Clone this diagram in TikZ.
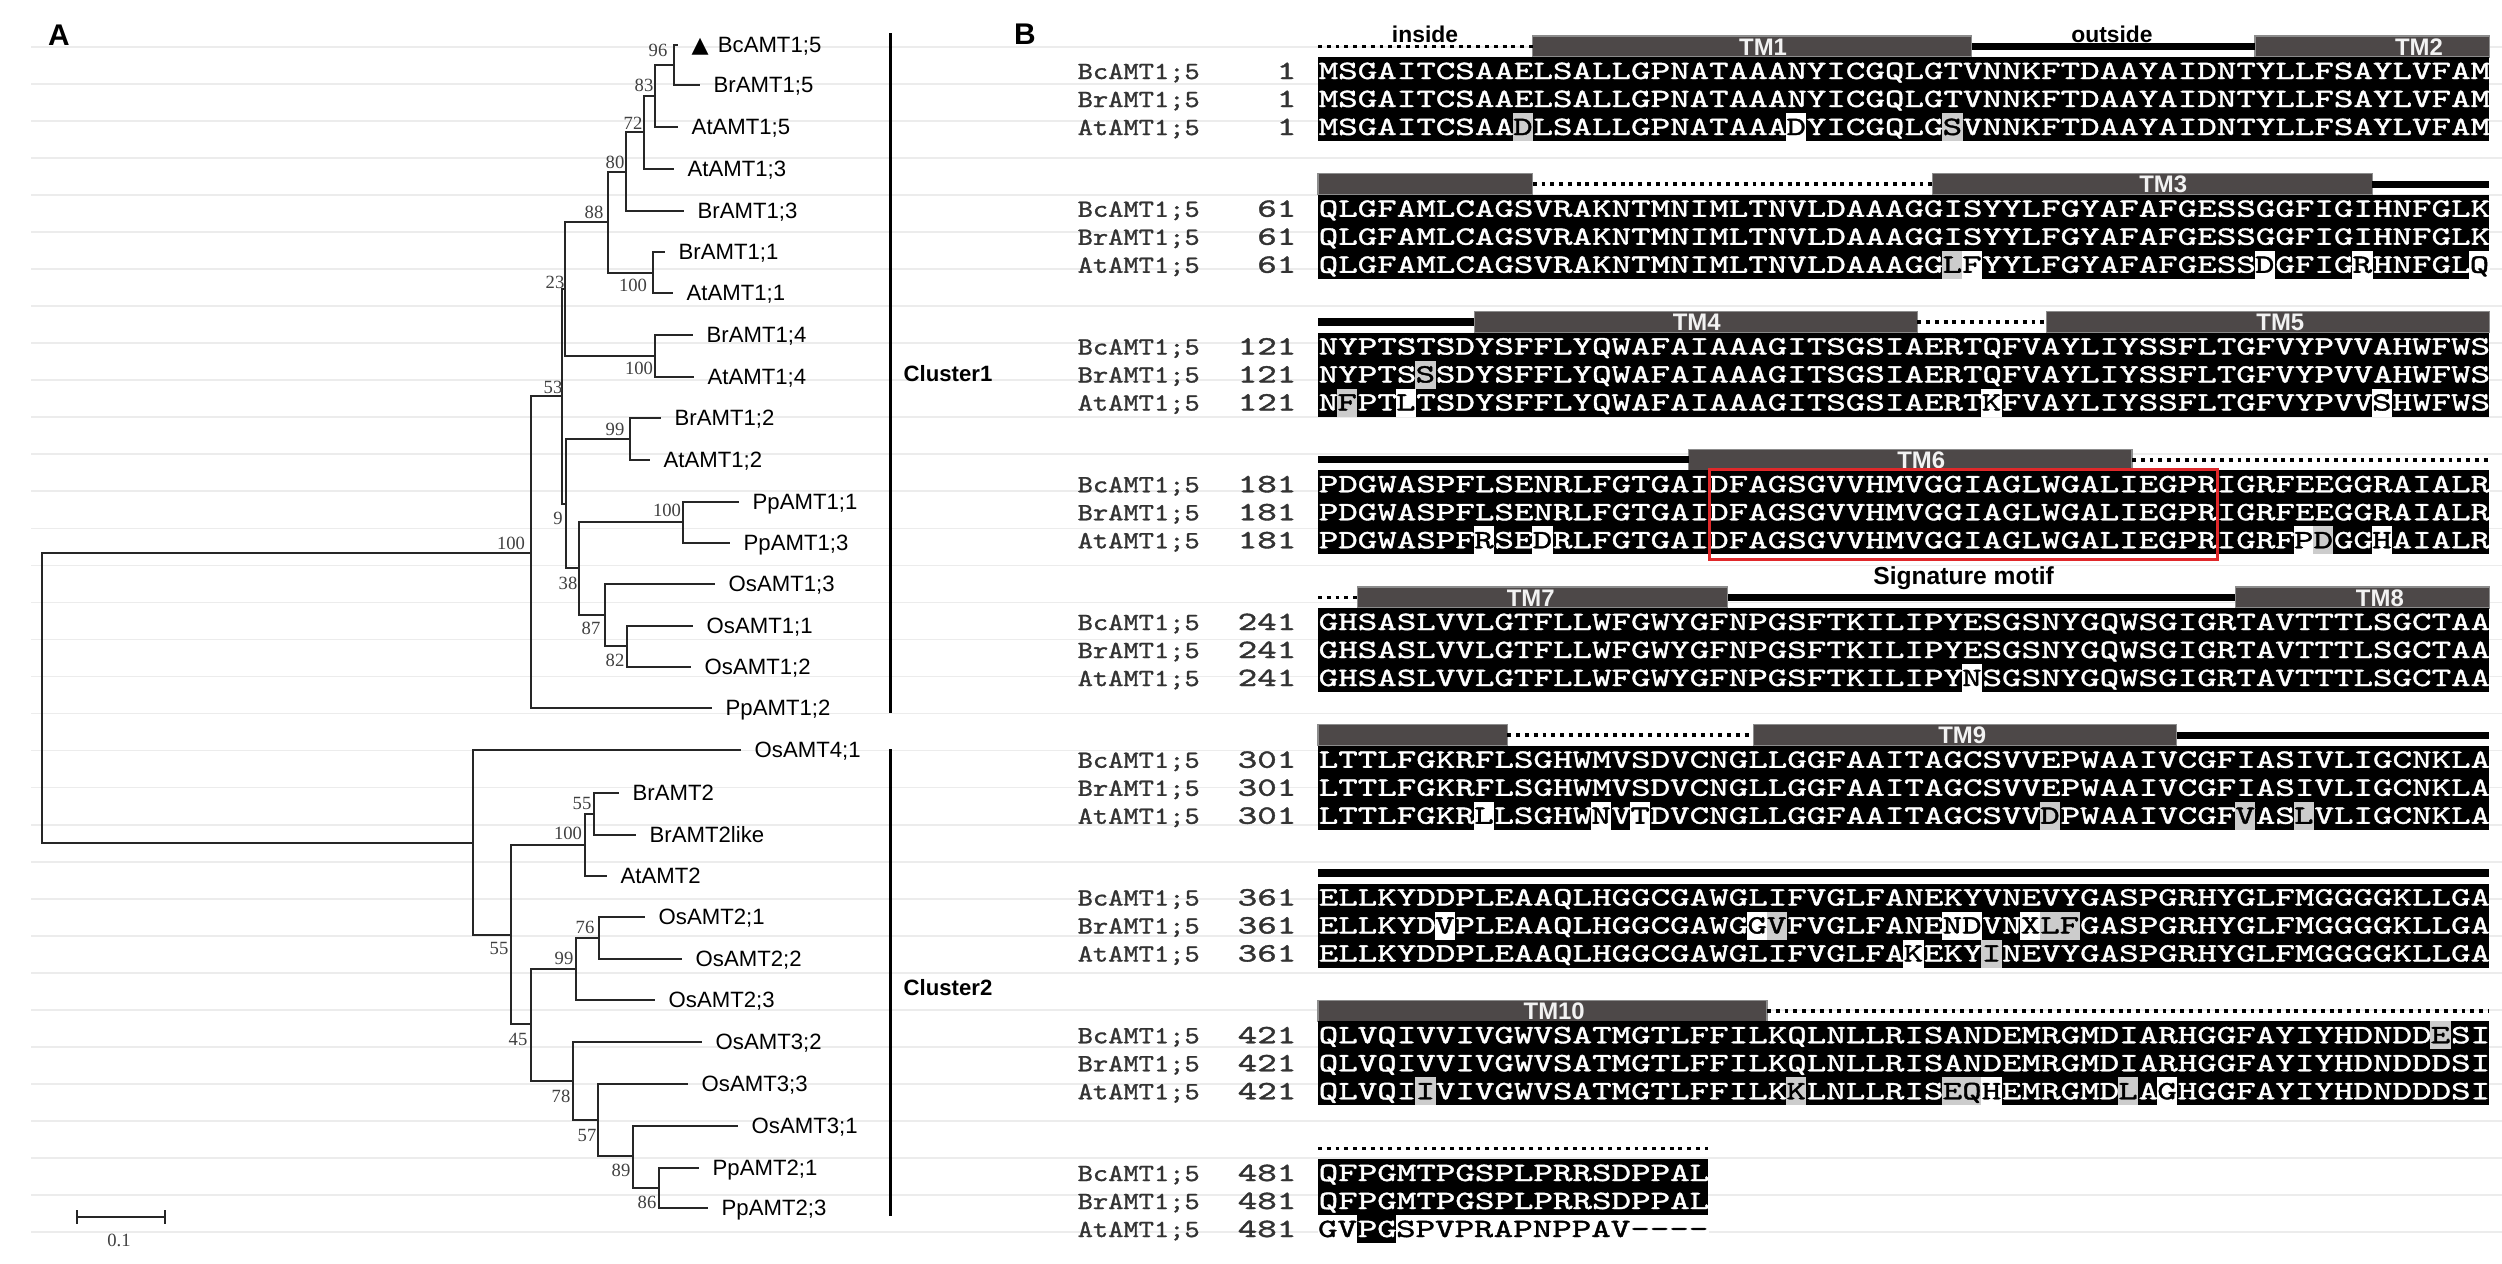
\documentclass[tikz,border=0pt]{standalone}
\usepackage{fontspec}
\setmainfont{Liberation Serif}
\setsansfont{Liberation Sans}
\newfontfamily\seqfont[Extension=.otf,FakeStretch=1.41,FakeBold=1.5]{lmmono10-regular}
\newfontfamily\namefont[Extension=.otf,FakeStretch=1.18,FakeBold=1.2]{lmmono10-regular}
\newfontfamily\symfont{DejaVu Sans}
\usetikzlibrary{positioning}

\definecolor{tmgray}{HTML}{4D4848}
\definecolor{gridgray}{HTML}{ECECEC}
\definecolor{motifred}{HTML}{E0282A}
\colorlet{cellgray}{black!20}

\tikzset{
  branch/.style={draw=black!85, line width=0.6pt},
  leaf/.style={font=\sffamily\fontsize{6.3pt}{6.3pt}\selectfont, anchor=west, inner xsep=3.7pt, inner ysep=0pt, text height=4.5pt, text depth=0pt},
  boot/.style={font=\rmfamily\fontsize{5.3pt}{5.3pt}\selectfont, text=black!75, inner sep=0pt},
  cluster/.style={font=\sffamily\bfseries\fontsize{6.3pt}{6.3pt}\selectfont, anchor=west, inner sep=0pt},
  panel/.style={font=\sffamily\bfseries\fontsize{8.5pt}{8.5pt}\selectfont, inner sep=0pt},
  seqtxt/.style={font=\fontsize{7.5pt}{7.5pt}\seqfont, inner sep=0pt, text=white},
  seqname/.style={font=\fontsize{7pt}{7pt}\namefont, inner sep=0pt, text=black!80, anchor=base west},
  seqnum/.style={font=\fontsize{7.5pt}{7.5pt}\seqfont, inner sep=0pt, text=black!80, anchor=base east},
  tmbar/.style={fill=tmgray, draw=black!45, line width=0.3pt},
  tmlabel/.style={font=\sffamily\bfseries\fontsize{6.8pt}{6.8pt}\selectfont, text=white!95!black, inner sep=0pt, anchor=base},
  outsideline/.style={line width=2pt},
  insideline/.style={line width=1.1pt, dash pattern=on 1.1pt off 1.4pt},
  regionlabel/.style={font=\sffamily\bfseries\fontsize{6.5pt}{6.5pt}\selectfont, inner sep=0pt},
}

\begin{document}
\begin{tikzpicture}[x=0.01cm, y=-0.01cm]
\useasboundingbox[fill=white] (0,0) rectangle (2502,1263);

% faint rules behind everything
\foreach \i in {0,...,32}
  \draw[gridgray, line width=0.5pt] (31,{47+37.03*\i}) -- (2502,{47+37.03*\i});

%%% A: tree
\node[panel] (labA) at (59,35) {A};

\node[leaf] (Bc15) at (678,45) {{\symfont ▲}\hspace{2.6pt}BcAMT1;5};
\foreach \n/\x/\y/\t in {Br15/700/85/BrAMT1;5, At15/678/127/AtAMT1;5, At13/674/169/AtAMT1;3,
    Br13/684/211/BrAMT1;3, Br11/665/252/BrAMT1;1, At11/673/293/AtAMT1;1, Br14/693/335/BrAMT1;4,
    At14/694/377/AtAMT1;4, Br12/661/418/BrAMT1;2, At12/650/460/AtAMT1;2, Pp11/739/502/PpAMT1;1,
    Pp13/730/543/PpAMT1;3, Os13/715/584/OsAMT1;3, Os11/693/626/OsAMT1;1, Os12/691/667/OsAMT1;2,
    Pp12/712/708/PpAMT1;2, Os41/741/750/OsAMT4;1, Br2/619/793/BrAMT2, Br2l/636/835/BrAMT2like,
    At2/607/876/AtAMT2, Os21/645/917/OsAMT2;1, Os22/682/959/OsAMT2;2, Os23/655/1000/OsAMT2;3,
    Os32/702/1042/OsAMT3;2, Os33/688/1084/OsAMT3;3, Os31/738/1126/OsAMT3;1, Pp21/699/1168/PpAMT2;1,
    Pp23/708/1208/PpAMT2;3}
  \node[leaf] (\n) at (\x,\y) {\t};

\foreach \n/\x/\y in {root/42/698, cl1/531/553, cl2/473/843, n53/562/396, n23/565/289, n88/608/222,
    n80/626/172, n72/644/132, n83/655/96, n96/674/65, n100a/653/273, n100b/655/356, n9/566/504,
    n99a/630/439, n38/579/568, n100c/683/522, n87/605/615, n82/627/646, n55a/511/935, n100d/585/845,
    n55b/594/814, n45/531/1024, n99b/576/969, n76/599/938, n78/573/1081, n57/598/1120, n89/633/1156,
    n86/659/1188}
  \coordinate (\n) at (\x,\y);

\foreach \p/\c in {root/cl1, root/cl2, cl1/n53, cl1/Pp12, n53/n23, n53/n9, n23/n88, n23/n100b,
    n88/n80, n88/n100a, n80/n72, n80/Br13, n72/n83, n72/At13, n83/n96, n83/At15, n96/Bc15, n96/Br15,
    n100a/Br11, n100a/At11, n100b/Br14, n100b/At14, n9/n99a, n9/n38, n99a/Br12, n99a/At12,
    n38/n100c, n38/n87, n100c/Pp11, n100c/Pp13, n87/Os13, n87/n82, n82/Os11, n82/Os12,
    cl2/Os41, cl2/n55a, n55a/n100d, n55a/n45, n100d/n55b, n100d/At2, n55b/Br2, n55b/Br2l,
    n45/n99b, n45/n78, n99b/n76, n99b/Os23, n76/Os21, n76/Os22, n78/Os32, n78/n57,
    n57/Os33, n57/n89, n89/Os31, n89/n86, n86/Pp21, n86/Pp23}
  \draw[branch] (\p) |- (\c);

% bootstrap values
\foreach \n/\x/\y/\v in {b96/658/50/96, b83/644/85/83, b72/633/123/72, b80/615/162/80, b88/594/212/88,
    b100a/633/285/100, b23/555/282/23, b100b/639/368/100, b53/553/387/53, b99a/615/429/99,
    b9/558/518/9, b100c/667/510/100, b38/568/583/38, b87/591/628/87, b82/615/660/82,
    b100r/511/543/100, b55b/582/803/55, b100d/568/833/100, b55a/499/948/55, b45/518/1039/45,
    b99b/564/958/99, b76/585/927/76, b78/561/1096/78, b57/587/1135/57, b89/621/1170/89, b86/647/1202/86}
  \node[boot] (\n) at (\x,\y) {\v};

% clusters
\coordinate (c1top) at (890,33);
\coordinate (c1bot) at (890,713);
\coordinate (c2top) at (890,749);
\coordinate (c2bot) at (890,1216);
\draw[line width=0.85pt] (c1top) -- (c1bot);
\draw[line width=0.85pt] (c2top) -- (c2bot);
\node[cluster] (cl1lab) at (903,374) {Cluster1};
\node[cluster] (cl2lab) at (903,988) {Cluster2};

% scale bar
\coordinate (sbl) at (77,1217);
\coordinate (sbr) at (165,1217);
\draw[branch] (sbl) -- (sbr);
\draw[branch] (77,1210) -- (77,1224);
\draw[branch] (165,1210) -- (165,1224);
\node[boot] (sblab) at (119,1240) {0.1};

%%% B: alignment
\node[panel] (labB) at (1025,34) {B};

% topology bars
\foreach \k/\a/\b in {0/11/33.5, 0/48/60, 1/0/11, 1/31.5/54, 2/8/30.7, 2/37.3/60, 3/19/41.7,
    4/2/21, 4/47/60, 5/0/9.7, 5/22.3/44, 7/0/23}
{
  \pgfmathsetmacro\yt{71+137.75*\k-35}
  \pgfmathsetmacro\ybt{71+137.75*\k-14}
  \draw[tmbar] ({1318+19.52*\a},\yt) rectangle ({1318+19.52*\b},\ybt);
}
\foreach \k/\c/\t in {0/22.8/TM1, 0/56.4/TM2, 1/43.3/TM3, 2/19.4/TM4, 2/49.3/TM5, 3/30.9/TM6,
    4/10.9/TM7, 4/54.4/TM8, 5/33/TM9, 7/12.1/TM10}
{
  \pgfmathsetmacro\ym{71+137.75*\k-16}
  \node[tmlabel] (\t) at ({1318+19.52*\c},\ym) {\t};
}
\foreach \k/\a/\b in {0/33.5/48, 1/54/60, 2/0/8, 3/0/19, 4/21/47, 5/44/60, 6/0/60}
{
  \pgfmathsetmacro\ym{71+137.75*\k-24.5}
  \draw[outsideline] ({1318+19.52*\a},\ym) -- ({1318+19.52*\b},\ym);
}
\foreach \k/\a/\b in {0/0/11, 1/11/31.5, 2/30.7/37.3, 3/41.7/60, 4/0/2, 5/9.7/22.3, 7/23/60, 8/0/20}
{
  \pgfmathsetmacro\ym{71+137.75*\k-24.5}
  \draw[insideline] ({1318+19.52*\a},\ym) -- ({1318+19.52*\b},\ym);
}
\node[regionlabel, anchor=base] (inside) at (1425,42) {inside};
\node[regionlabel, anchor=base] (outside) at (2112,42) {outside};

% sequence blocks
\foreach \k/\num/\len/\sa/\sb/\sc in {
  0/1/60/MSGAITCSAAELSALLGPNATAAANYICGQLGTVNNKFTDAAYAIDNTYLLFSAYLVFAM/MSGAITCSAAELSALLGPNATAAANYICGQLGTVNNKFTDAAYAIDNTYLLFSAYLVFAM/MSGAITCSAADLSALLGPNATAAADYICGQLGSVNNKFTDAAYAIDNTYLLFSAYLVFAM,
  1/61/60/QLGFAMLCAGSVRAKNTMNIMLTNVLDAAAGGISYYLFGYAFAFGESSGGFIGIHNFGLK/QLGFAMLCAGSVRAKNTMNIMLTNVLDAAAGGISYYLFGYAFAFGESSGGFIGIHNFGLK/QLGFAMLCAGSVRAKNTMNIMLTNVLDAAAGGLFYYLFGYAFAFGESSDGFIGRHNFGLQ,
  2/121/60/NYPTSTSDYSFFLYQWAFAIAAAGITSGSIAERTQFVAYLIYSSFLTGFVYPVVAHWFWS/NYPTSSSDYSFFLYQWAFAIAAAGITSGSIAERTQFVAYLIYSSFLTGFVYPVVAHWFWS/NFPTLTSDYSFFLYQWAFAIAAAGITSGSIAERTKFVAYLIYSSFLTGFVYPVVSHWFWS,
  3/181/60/PDGWASPFLSENRLFGTGAIDFAGSGVVHMVGGIAGLWGALIEGPRIGRFEEGGRAIALR/PDGWASPFLSENRLFGTGAIDFAGSGVVHMVGGIAGLWGALIEGPRIGRFEEGGRAIALR/PDGWASPFRSEDRLFGTGAIDFAGSGVVHMVGGIAGLWGALIEGPRIGRFPDGGHAIALR,
  4/241/60/GHSASLVVLGTFLLWFGWYGFNPGSFTKILIPYESGSNYGQWSGIGRTAVTTTLSGCTAA/GHSASLVVLGTFLLWFGWYGFNPGSFTKILIPYESGSNYGQWSGIGRTAVTTTLSGCTAA/GHSASLVVLGTFLLWFGWYGFNPGSFTKILIPYNSGSNYGQWSGIGRTAVTTTLSGCTAA,
  5/301/60/LTTLFGKRFLSGHWMVSDVCNGLLGGFAAITAGCSVVEPWAAIVCGFIASIVLIGCNKLA/LTTLFGKRFLSGHWMVSDVCNGLLGGFAAITAGCSVVEPWAAIVCGFIASIVLIGCNKLA/LTTLFGKRLLSGHWNVTDVCNGLLGGFAAITAGCSVVDPWAAIVCGFVASLVLIGCNKLA,
  6/361/60/ELLKYDDPLEAAQLHGGCGAWGLIFVGLFANEKYVNEVYGASPGRHYGLFMGGGGKLLGA/ELLKYDVPLEAAQLHGGCGAWGGVFVGLFANENDVNXLFGASPGRHYGLFMGGGGKLLGA/ELLKYDDPLEAAQLHGGCGAWGLIFVGLFAKEKYINEVYGASPGRHYGLFMGGGGKLLGA,
  7/421/60/QLVQIVVIVGWVSATMGTLFFILKQLNLLRISANDEMRGMDIARHGGFAYIYHDNDDESI/QLVQIVVIVGWVSATMGTLFFILKQLNLLRISANDEMRGMDIARHGGFAYIYHDNDDDSI/QLVQIIVIVGWVSATMGTLFFILKKLNLLRISEQHEMRGMDLAGHGGFAYIYHDNDDDSI,
  8/481/20/QFPGMTPGSPLPRRSDPPAL/QFPGMTPGSPLPRRSDPPAL/GVPGSPVPRAPNPPAV}
{
  \pgfmathsetmacro\ya{71+137.75*\k}
  \pgfmathsetmacro\yb{\ya+28}
  \pgfmathsetmacro\yc{\ya+56}
  \fill[black] (1318,\ya-14) rectangle ({1318+19.52*\len},\yc+14);
  \node[seqname] (nBc\k) at (1077,\ya+8) {BcAMT1;5};
  \node[seqname] (nBr\k) at (1077,\yb+8) {BrAMT1;5};
  \node[seqname] (nAt\k) at (1077,\yc+8) {AtAMT1;5};
  \node[seqnum] (mBc\k) at (1297,\ya+8) {\num};
  \node[seqnum] (mBr\k) at (1297,\yb+8) {\num};
  \node[seqnum] (mAt\k) at (1297,\yc+8) {\num};
  \node[seqtxt, anchor=base west] (sBc\k) at (1318,\ya+8) {\sa};
  \node[seqtxt, anchor=base west] (sBr\k) at (1318,\yb+8) {\sb};
  \node[seqtxt, anchor=base west] (sAt\k) at (1318,\yc+8) {\sc};
}

% residues that differ
\foreach \k/\r/\c/\ch/\f in {
  0/3/10/D/cellgray, 0/3/24/D/white, 0/3/32/S/cellgray,
  1/3/32/L/cellgray, 1/3/33/F/white, 1/3/48/D/white, 1/3/53/R/white, 1/3/59/Q/white,
  2/2/5/S/cellgray, 2/3/1/F/cellgray, 2/3/4/L/white, 2/3/34/K/white, 2/3/54/S/white,
  3/3/8/R/white, 3/3/11/D/white, 3/3/50/P/white, 3/3/51/D/cellgray, 3/3/54/H/white,
  4/3/33/N/white,
  5/3/8/L/white, 5/3/14/N/white, 5/3/16/T/white, 5/3/37/D/cellgray, 5/3/47/V/cellgray, 5/3/50/L/cellgray,
  6/2/6/V/white, 6/2/22/G/white, 6/2/23/V/cellgray, 6/2/32/N/white, 6/2/33/D/white, 6/2/36/X/white,
  6/2/37/L/cellgray, 6/2/38/F/cellgray, 6/3/30/K/white, 6/3/34/I/cellgray,
  7/1/57/E/cellgray, 7/3/5/I/cellgray, 7/3/24/K/cellgray, 7/3/32/E/cellgray, 7/3/33/Q/cellgray,
  7/3/34/H/white, 7/3/41/L/cellgray, 7/3/43/G/white,
  8/3/0/G/white, 8/3/1/V/white, 8/3/4/S/white, 8/3/5/P/white, 8/3/6/V/white, 8/3/7/P/white,
  8/3/8/R/white, 8/3/9/A/white, 8/3/10/P/white, 8/3/11/N/white, 8/3/12/P/white, 8/3/13/P/white,
  8/3/14/A/white, 8/3/15/V/white, 8/3/16/-/white, 8/3/17/-/white, 8/3/18/-/white, 8/3/19/-/white}
{
  \pgfmathsetmacro\yy{71+137.75*\k+28*(\r-1)}
  \fill[\f] ({1318+19.52*\c-0.4},\yy-14) rectangle ({1318+19.52*(\c+1)+0.4},\yy+14);
  \node[seqtxt, text=black, anchor=base] (x\k r\r c\c) at ({1318+19.52*(\c+0.5)},\yy+8) {\ch};
}

% signature motif
\node (motif) [rectangle, draw=motifred, line width=0.85pt, minimum width=5.08cm, minimum height=0.9cm, inner sep=0pt, anchor=north west] at (1708,468) {};
\node (motiflab) [regionlabel, font=\sffamily\bfseries\fontsize{7pt}{7pt}\selectfont, below=0.05cm of motif] {Signature motif};
\end{tikzpicture}
\end{document}
